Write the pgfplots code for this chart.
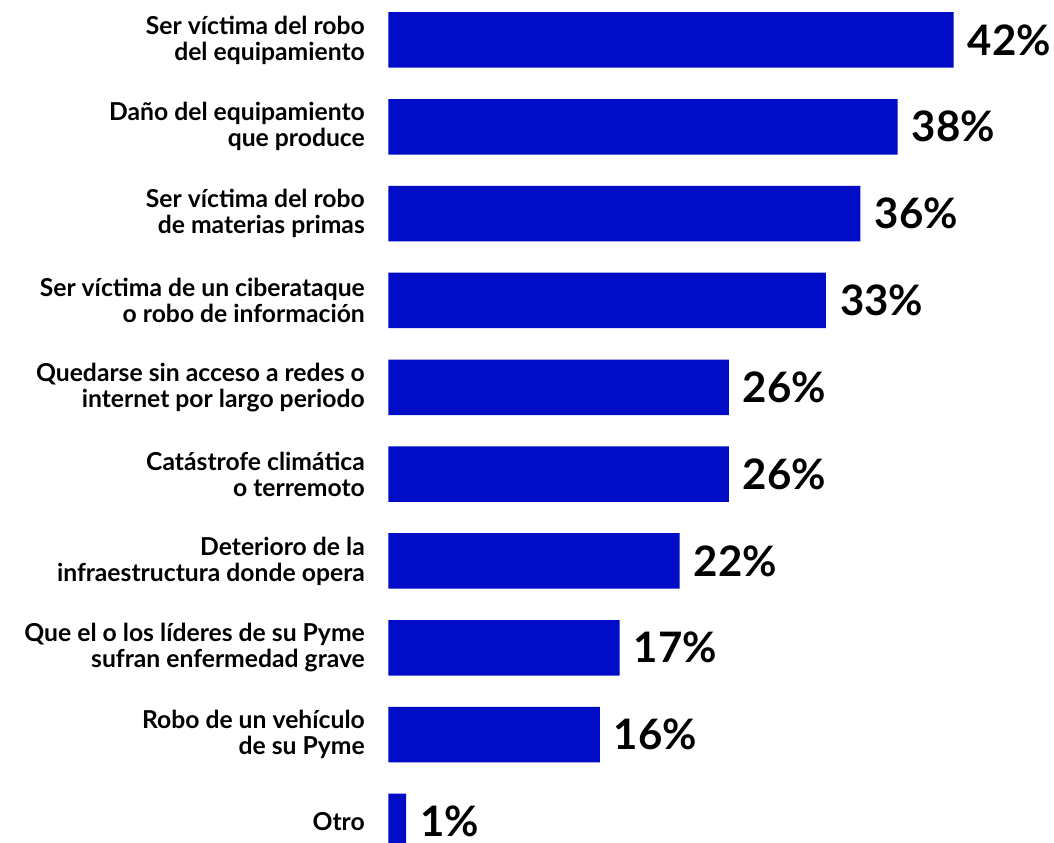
\documentclass[border=0pt]{standalone}
\usepackage{pgfplots}
\pgfplotsset{compat=1.18}
\usepackage{fontspec}
\setmainfont{Lato}
\definecolor{barblue}{RGB}{0,12,198}

\begin{document}
\begin{tikzpicture}
\begin{axis}[
    scale only axis,
    width=665.7pt, height=843pt,
    xbar, bar width=55.5pt,
    xmin=0, xmax=50.05,
    ymin=-0.4607, ymax=9.248,
    y dir=reverse,
    axis line style={draw=none},
    major tick length=0pt,
    xtick=\empty,
    ytick={0,...,9},
    yticklabels={
        {Ser víctima del robo\\del equipamiento},
        {Daño del equipamiento\\que produce},
        {Ser víctima del robo\\de materias primas},
        {Ser víctima de un ciberataque\\o robo de información},
        {Quedarse sin acceso a redes o\\internet por largo periodo},
        {Catástrofe climática\\o terremoto},
        {Deterioro de la\\infraestructura donde opera},
        {Que el o los líderes de su Pyme\\sufran enfermedad grave},
        {Robo de un vehículo\\de su Pyme},
        {Otro}},
    yticklabel style={align=right, inner sep=0pt, xshift=-23.3pt,
        font=\fontsize{24.7}{25.9}\selectfont\bfseries},
    point meta=explicit symbolic,
    nodes near coords={\pgfplotspointmeta\%},
    nodes near coords style={black, anchor=west, inner sep=0pt, xshift=14pt,
        font=\fontsize{42}{42}\selectfont\bfseries},
]
\addplot[fill=barblue, draw=none] table[x=x, y=y, meta=l] {
x    y l
42.5 0 42
38.3 1 38
35.5 2 36
32.9 3 33
25.6 4 26
25.6 5 26
21.9 6 22
17.4 7 17
15.9 8 16
1.35 9 1
};
\end{axis}
\pgfresetboundingbox
\path ([xshift=-388.3pt]current axis.south west) rectangle (current axis.north east);
\end{tikzpicture}
\end{document}
